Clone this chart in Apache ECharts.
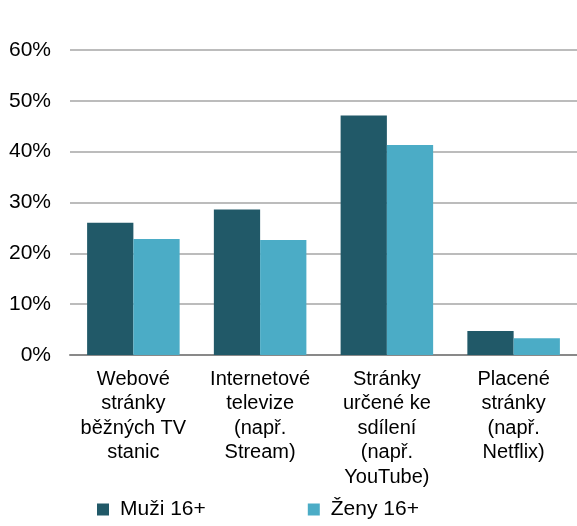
<!DOCTYPE html>
<html>
<head>
<meta charset="utf-8">
<script src="https://cdn.jsdelivr.net/npm/echarts@6/dist/echarts.min.js"></script>
<style>
    html, body { margin: 0; padding: 0; background: #fff; }
    #chart { width: 577px; height: 526px; }
</style>
</head>
<body>
<div id="chart"></div>
<script>
    // data
    var categories = [
        'Webové\nstránky\nběžných TV\nstanic',
        'Internetové\ntelevize\n(např.\nStream)',
        'Stránky\nurčené ke\nsdílení\n(např.\nYouTube)',
        'Placené\nstránky\n(např.\nNetflix)'
    ];
    var muzi = [26.0, 28.6, 47.1, 4.7];
    var zeny = [22.8, 22.6, 41.3, 3.3];
    var seriesNames = ['Muži 16+', 'Ženy 16+'];

    var font = 'Liberation Sans, Arial, sans-serif';

    var myChart = echarts.init(document.getElementById('chart'));
    myChart.setOption({
        animation: false,
        color: ['#215968', '#4bacc6'],
        textStyle: {fontFamily: font},
        grid: {left: 70, right: 0, top: 50, bottom: 171, containLabel: false},
        legend: {
            left: 92, top: 494,
            itemWidth: 12, itemHeight: 12, itemGap: 102,
            icon: 'rect',
            textStyle: {fontSize: 21, color: '#000', fontFamily: font, padding: [0, 0, 0, 6]},
            data: seriesNames
        },
        xAxis: {
            type: 'category',
            data: categories,
            axisLine: {lineStyle: {color: '#898989', width: 2}},
            axisTick: {show: false},
            axisLabel: {interval: 0, margin: 12, fontSize: 20, lineHeight: 24.5, color: '#000', fontFamily: font}
        },
        yAxis: {
            type: 'value',
            min: 0, max: 60, interval: 10,
            axisLine: {show: false},
            axisTick: {show: false},
            splitLine: {lineStyle: {color: '#a6a6a6', width: 1.5}},
            axisLabel: {formatter: '{value}%', margin: 19, fontSize: 21, color: '#000', fontFamily: font}
        },
        series: [
            {name: seriesNames[0], type: 'bar', data: muzi, barGap: 0, barCategoryGap: '27%'},
            {name: seriesNames[1], type: 'bar', data: zeny, barGap: 0, barCategoryGap: '27%'}
        ]
    });
</script>
</body>
</html>
